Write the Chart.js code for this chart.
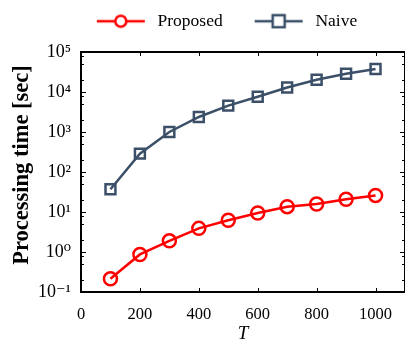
<!DOCTYPE html>
<html><head><meta charset="utf-8">
<script src="https://cdn.jsdelivr.net/npm/chart.js@4/dist/chart.umd.min.js"></script>
<style>html,body{margin:0;padding:0;background:#fff;}canvas{display:block;}</style>
</head><body>
<canvas id="c" width="405" height="345"></canvas>
<script>
const T = [100, 200, 300, 400, 500, 600, 700, 800, 900, 1000];
const proposed = [0.215, 0.87, 1.9, 3.9, 6.2, 9.4, 13.6, 15.8, 20.8, 26];
const naive = [37, 288, 1000, 2370, 4560, 7600, 13000, 20300, 28700, 37600];
const xTicks = [0, 200, 400, 600, 800, 1000];
const yTicks = [0.1, 1, 10, 100, 1000, 10000, 100000];
const yTickLabels = ['10\u207B\u00B9', '10\u2070', '10\u00B9', '10\u00B2', '10\u00B3', '10\u2074', '10\u2075'];

const RED = '#ff0000';
const NAVY = '#3b5068';
const FONT = "'Liberation Serif', 'DejaVu Serif', serif";

function legendIcon(color, shape) {
  const L = 22, R = 4, W = 48;
  const cv = document.createElement('canvas');
  cv.width = L + W + R; cv.height = 16;
  const g = cv.getContext('2d');
  g.strokeStyle = color; g.lineWidth = 2.5;
  g.beginPath(); g.moveTo(L, 8); g.lineTo(L + W, 8); g.stroke();
  g.fillStyle = '#fff';
  const cx = L + W / 2;
  if (shape === 'circle') {
    g.beginPath(); g.arc(cx, 8, 5.5, 0, Math.PI * 2); g.fill(); g.stroke();
  } else {
    g.fillRect(cx - 6, 2, 12, 12); g.strokeRect(cx - 6, 2, 12, 12);
  }
  return cv;
}

const framePlugin = {
  id: 'frame',
  afterLayout(chart) {
    if (chart.legend) {
      chart.legend.left += 13.5; chart.legend.right += 13.5;
      chart.legend.top -= 12; chart.legend.bottom -= 12;
    }
    const ys = chart.scales.y;
    if (ys && !ys._titleShifted) {
      const orig = ys.drawTitle.bind(ys);
      ys.drawTitle = function () {
        this.ctx.save(); this.ctx.translate(0, -7); orig(); this.ctx.restore();
      };
      ys._titleShifted = true;
    }
  },
  afterDatasetsDraw(chart) {
    const {ctx, chartArea: {left, right, top, bottom}, scales: {x, y}} = chart;
    ctx.save();
    ctx.strokeStyle = '#000';
    ctx.lineWidth = 1;
    ctx.beginPath();
    xTicks.forEach(v => {
      if (v === 0) return;
      const px = Math.round(x.getPixelForValue(v)) + 0.5;
      ctx.moveTo(px, bottom); ctx.lineTo(px, bottom - 4);
      ctx.moveTo(px, top); ctx.lineTo(px, top + 4);
    });
    for (let d = -1; d <= 4; d++) {
      const major = Math.pow(10, d);
      [major, 2 * major, 5 * major, 8 * major].forEach((v, i) => {
        if (v <= 0.1) return;
        const py = Math.round(y.getPixelForValue(v)) + 0.5;
        const len = i === 0 ? 5 : 3;
        ctx.moveTo(left, py); ctx.lineTo(left + len, py);
        ctx.moveTo(right, py); ctx.lineTo(right - len, py);
      });
    }
    ctx.stroke();
    ctx.lineWidth = 2;
    ctx.strokeRect(left, top, right - left, bottom - top);
    ctx.restore();
  }
};

new Chart(document.getElementById('c'), {
  type: 'line',
  data: {
    datasets: [
      {
        label: 'Proposed',
        data: T.map((t, i) => ({x: t, y: proposed[i]})),
        borderColor: RED, backgroundColor: 'rgba(0,0,0,0)',
        borderWidth: 2.5, pointStyle: 'circle', pointRadius: 6.5,
        pointBorderWidth: 2.5, pointBorderColor: RED, pointBackgroundColor: 'rgba(0,0,0,0)',
        tension: 0
      },
      {
        label: 'Naive',
        data: T.map((t, i) => ({x: t, y: naive[i]})),
        borderColor: NAVY, backgroundColor: 'rgba(0,0,0,0)',
        borderWidth: 2.5, pointStyle: 'rect', pointRadius: 7,
        pointBorderWidth: 2.5, pointBorderColor: NAVY, pointBackgroundColor: 'rgba(0,0,0,0)',
        tension: 0
      }
    ]
  },
  options: {
    responsive: false,
    animation: false,
    devicePixelRatio: 1,
    layout: {autoPadding: false, padding: {top: 2, right: 0, left: 0, bottom: 0}},
    plugins: {
      legend: {
        position: 'top',
        align: 'center',
        labels: {
          usePointStyle: true,
          pointStyleWidth: 74,
          padding: 10,
          color: '#000',
          font: {family: FONT, size: 17.5},
          generateLabels(chart) {
            return chart.data.datasets.map((ds, i) => ({
              text: ds.label,
              pointStyle: legendIcon(ds.borderColor, i === 0 ? 'circle' : 'rect'),
              fontColor: '#000',
              datasetIndex: i,
              hidden: false,
              lineWidth: 0
            }));
          }
        }
      },
      tooltip: {enabled: false}
    },
    scales: {
      x: {
        type: 'linear',
        min: 0, max: 1100,
        afterBuildTicks(scale) { scale.ticks = xTicks.map(v => ({value: v})); },
        afterFit(scale) { scale.height = 53; scale.paddingRight = 0; scale.paddingLeft = 0; },
        grid: {display: false, drawTicks: false},
        border: {display: false},
        ticks: {color: '#000', padding: 13, maxRotation: 0, font: {family: FONT, size: 16.5},
          callback(v) { return String(v); }},
        title: {display: true, text: 'T', color: '#000', padding: {top: 0, bottom: 0},
          font: {family: FONT, size: 19, style: 'italic'}}
      },
      y: {
        type: 'logarithmic',
        min: 0.1, max: 100000,
        afterBuildTicks(scale) { scale.ticks = yTicks.map(v => ({value: v})); },
        afterFit(scale) { scale.width = 81; scale.paddingTop = 52; scale.paddingBottom = 0; },
        grid: {display: false, drawTicks: false},
        border: {display: false},
        ticks: {
          color: '#000', padding: 10, font: {family: FONT, size: 18},
          callback(v) { const i = yTicks.indexOf(v); return i >= 0 ? yTickLabels[i] : ''; }
        },
        title: {display: true, text: 'Processing time [sec]', color: '#000',
          padding: {top: 9, bottom: 0},
          font: {family: FONT, size: 22.5, weight: 'bold'}}
      }
    }
  },
  plugins: [framePlugin]
});
</script>
</body></html>
